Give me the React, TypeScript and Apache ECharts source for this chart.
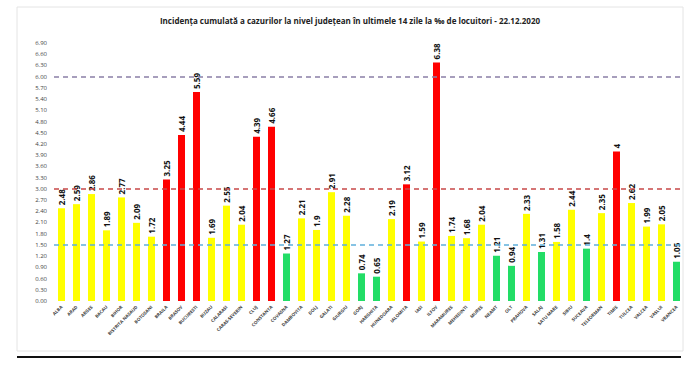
import React, { useEffect, useRef } from "react";
import * as echarts from "echarts";

const counties = [
  "ALBA", "ARAD", "ARGES", "BACAU", "BIHOR", "BISTRITA NASAUD", "BOTOSANI", "BRAILA", "BRASOV", "BUCURESTI",
  "BUZAU", "CALARASI", "CARAS-SEVERIN", "CLUJ", "CONSTANTA", "COVASNA", "DAMBOVITA", "DOLJ", "GALATI", "GIURGIU",
  "GORJ", "HARGHITA", "HUNEDOARA", "IALOMITA", "IASI", "ILFOV", "MARAMURES", "MEHEDINTI", "MURES", "NEAMT",
  "OLT", "PRAHOVA", "SALAJ", "SATU MARE", "SIBIU", "SUCEAVA", "TELEORMAN", "TIMIS", "TULCEA", "VALCEA",
  "VASLUI", "VRANCEA",
];

const incidence = [
  2.48, 2.59, 2.86, 1.89, 2.77, 2.09, 1.72, 3.25, 4.44, 5.59,
  1.69, 2.55, 2.04, 4.39, 4.66, 1.27, 2.21, 1.9, 2.91, 2.28,
  0.74, 0.65, 2.19, 3.12, 1.59, 6.38, 1.74, 1.68, 2.04, 1.21,
  0.94, 2.33, 1.31, 1.58, 2.44, 1.4, 2.35, 4, 2.62, 1.99,
  2.05, 1.05,
];

const thresholds = [6.0, 3.0, 1.5];
const thresholdColors = ["#8a7fa6", "#c84848", "#5fb0dc"];

const titleText = "Incidența cumulată a cazurilor la nivel județean în ultimele 14 zile la ‰ de locuitori - 22.12.2020";

function barColor(v: number): string {
  if (v > 3) return "#ff0000";
  if (v >= 1.5) return "#ffff00";
  return "#22dd66";
}

export default function App() {
  const ref = useRef<HTMLDivElement>(null);
  useEffect(() => {
    if (!ref.current) return;
    const chart = echarts.init(ref.current, null, { renderer: "svg" });
    chart.setOption({
      animation: false,
      backgroundColor: "#ffffff",
      title: {
        text: titleText,
        left: "center",
        top: 11,
        textStyle: { fontSize: 8, fontWeight: "bold", color: "#222", fontFamily: "Open Sans" },
      },
      graphic: [
        {
          type: "rect",
          shape: { x: 17, y: 7, width: 666, height: 344 },
          style: { fill: "none", stroke: "#e4e4e4", lineWidth: 1 },
          silent: true,
        },
        {
          type: "line",
          shape: { x1: 17, y1: 357, x2: 681, y2: 357 },
          style: { stroke: "#111", lineWidth: 2 },
          silent: true,
        },
      ],
      grid: { left: 54, right: 16, top: 43, bottom: 64 },
      xAxis: {
        type: "category",
        data: counties,
        axisLine: { show: false },
        axisTick: { show: false },
        axisLabel: {
          interval: 0,
          rotate: 45,
          fontSize: 4.5,
          fontWeight: "bold",
          color: "#444",
          margin: 5,
          fontFamily: "Open Sans",
        },
      },
      yAxis: {
        type: "value",
        min: 0,
        max: 6.9,
        interval: 0.3,
        splitLine: { show: false },
        axisLine: { show: false },
        axisTick: { show: false },
        axisLabel: {
          fontSize: 6,
          color: "#444",
          margin: 7,
          formatter: (v: number) => v.toFixed(2),
          fontFamily: "Open Sans",
        },
      },
      series: [
        {
          type: "bar",
          barWidth: 7,
          data: incidence.map((v) => ({ value: v, itemStyle: { color: barColor(v) } })),
          label: {
            show: true,
            position: "top",
            rotate: 90,
            align: "left",
            verticalAlign: "middle",
            distance: 3,
            fontSize: 8,
            fontWeight: "bold",
            color: "#111",
            fontFamily: "Open Sans",
          },
          markLine: {
            silent: true,
            symbol: "none",
            label: { show: false },
            data: thresholds.map((t, i) => ({
              yAxis: t,
              lineStyle: { color: thresholdColors[i], type: [5, 4], width: 1.6 },
            })),
          },
        },
      ],
    });
    return () => chart.dispose();
  }, []);
  return (
    <div
      ref={ref}
      style={{ position: "fixed", left: 0, top: 0, width: 700, height: 365 }}
    />
  );
}
